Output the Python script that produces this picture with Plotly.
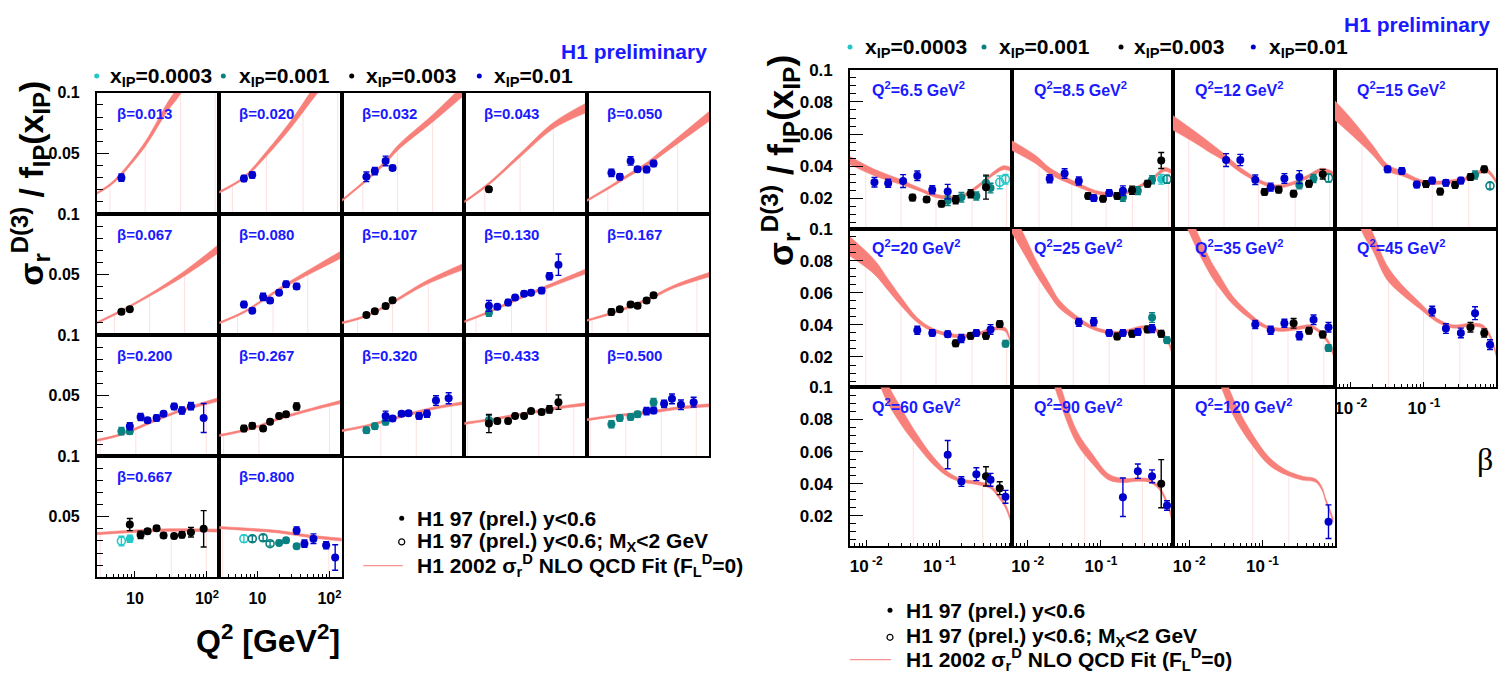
import numpy as np
import plotly.graph_objects as go

W, H = 1501, 684
FONT = "Liberation Sans, Arial, sans-serif"

CYAN = "#22c8c8"    # x_IP = 0.0003
TEAL = "#0a8080"    # x_IP = 0.001
BLACK = "#000000"   # x_IP = 0.003
BLUE = "#0000cc"    # x_IP = 0.01
LABEL_BLUE = "#1a1aff"
FIT = "rgb(248,128,122)"
FIT_SEAM = "rgba(240,120,120,0.22)"

# ---------------------------------------------------------------- binning
BETA_BINS = [0.013, 0.020, 0.032, 0.043, 0.050, 0.067, 0.080, 0.107, 0.130,
             0.167, 0.200, 0.267, 0.320, 0.433, 0.500, 0.667, 0.800]
Q2_BINS = [6.5, 8.5, 12, 15, 20, 25, 35, 45, 60, 90, 120]

# ------------------------------------------- sigma_r^D(3)/f_IP per x_IP
# x_IP = 0.0003
c_beta = [0.667, 0.667, 0.800]
c_q2 = [6.5, 8.5, 6.5]
c_sig = [0.0299, 0.0318, 0.0318]
c_err = [0.004, 0.003, 0.003]
c_open = [1, 0, 1]

# x_IP = 0.001
t_beta = [0.130, 0.200, 0.200, 0.320, 0.320, 0.320, 0.433, 0.500, 0.500,
          0.500, 0.500, 0.500, 0.800, 0.800, 0.800, 0.800, 0.800, 0.800]
t_q2 = [6.5, 6.5, 8.5, 6.5, 8.5, 12, 6.5, 6.5, 8.5,
        12, 15, 25, 8.5, 12, 15, 20, 25, 35]
t_sig = [0.0184, 0.0206, 0.0206, 0.0214, 0.0247, 0.0283, 0.0296, 0.0263, 0.0315,
         0.0323, 0.0345, 0.0446, 0.0318, 0.0326, 0.0277, 0.0283, 0.0305, 0.0256]
t_err = [0.003, 0.003, 0.0025, 0.0025, 0.0025, 0.0025, 0.004, 0.003, 0.0025,
         0.0025, 0.0025, 0.003, 0.0025, 0.0025, 0.002, 0.002, 0.002, 0.002]
t_open = [0, 0, 0, 0, 0, 0, 0, 0, 0, 0, 0, 0, 1, 1, 1, 0, 0, 0]

# x_IP = 0.003
k_beta = [0.043,
          0.067, 0.067,
          0.107, 0.107, 0.107, 0.107,
          0.167, 0.167, 0.167, 0.167, 0.167, 0.167,
          0.267, 0.267, 0.267, 0.267, 0.267, 0.267, 0.267,
          0.433, 0.433, 0.433, 0.433, 0.433, 0.433, 0.433, 0.433, 0.433,
          0.667, 0.667, 0.667, 0.667, 0.667, 0.667, 0.667, 0.667, 0.667]
k_q2 = [6.5,
        6.5, 8.5,
        6.5, 8.5, 12, 15,
        6.5, 8.5, 12, 15, 20, 25,
        6.5, 8.5, 12, 15, 20, 25, 35,
        6.5, 8.5, 12, 15, 20, 25, 35, 45, 60,
        8.5, 12, 15, 20, 25, 35, 45, 60, 90]
k_sig = [0.0204,
         0.0192, 0.0214,
         0.0165, 0.0196, 0.0239, 0.0288,
         0.0190, 0.0214, 0.0253, 0.0241, 0.0285, 0.0328,
         0.0228, 0.0250, 0.0228, 0.0283, 0.0332, 0.0345, 0.0410,
         0.0269, 0.0290, 0.0290, 0.0332, 0.0332, 0.0372, 0.0364, 0.0386, 0.0446,
         0.0435, 0.0350, 0.0380, 0.0405, 0.0345, 0.0340, 0.0350, 0.0372, 0.0400]
k_err = [0.002,
         0.0018, 0.0018,
         0.0018, 0.0018, 0.002, 0.002,
         0.0025, 0.002, 0.002, 0.002, 0.002, 0.002,
         0.0025, 0.0025, 0.002, 0.002, 0.002, 0.002, 0.003,
         0.0075, 0.002, 0.002, 0.002, 0.002, 0.002, 0.002, 0.003, 0.006,
         0.005, 0.003, 0.002, 0.002, 0.002, 0.002, 0.0025, 0.004, 0.015]
k_open = [0] * len(k_beta)

# x_IP = 0.01
b_beta = [0.013,
          0.020, 0.020,
          0.032, 0.032, 0.032, 0.032,
          0.050, 0.050, 0.050, 0.050, 0.050, 0.050,
          0.080, 0.080, 0.080, 0.080, 0.080, 0.080, 0.080,
          0.130, 0.130, 0.130, 0.130, 0.130, 0.130, 0.130, 0.130, 0.130,
          0.200, 0.200, 0.200, 0.200, 0.200, 0.200, 0.200, 0.200, 0.200,
          0.320, 0.320, 0.320, 0.320, 0.320, 0.320, 0.320, 0.320,
          0.500, 0.500, 0.500, 0.500, 0.500, 0.500,
          0.800, 0.800, 0.800, 0.800, 0.800]
b_q2 = [6.5,
        6.5, 8.5,
        6.5, 8.5, 12, 15,
        6.5, 8.5, 12, 15, 20, 25,
        6.5, 8.5, 12, 15, 20, 25, 35,
        6.5, 8.5, 12, 15, 20, 25, 35, 45, 60,
        8.5, 12, 15, 20, 25, 35, 45, 60, 90,
        12, 15, 20, 25, 35, 45, 60, 90,
        20, 25, 35, 45, 60, 90,
        35, 45, 60, 90, 120]
b_sig = [0.0300,
         0.0293, 0.0321,
         0.0307, 0.0354, 0.0438, 0.0380,
         0.0340, 0.0307, 0.0438, 0.0370, 0.0367, 0.0416,
         0.0253, 0.0201, 0.0315, 0.0285, 0.0350, 0.0420, 0.0402,
         0.0241, 0.0233, 0.0269, 0.0310, 0.0342, 0.0350, 0.0367, 0.0486, 0.0581,
         0.0247, 0.0323, 0.0296, 0.0315, 0.0350, 0.0410, 0.0377, 0.0413, 0.0315,
         0.0332, 0.0310, 0.0350, 0.0355, 0.0332, 0.0350, 0.0459, 0.0478,
         0.0372, 0.0377, 0.0432, 0.0473, 0.0424, 0.0446,
         0.0386, 0.0277, 0.0318, 0.0264, 0.0163]
b_err = [0.003,
         0.0025, 0.0025,
         0.004, 0.003, 0.004, 0.002,
         0.003, 0.0025, 0.0035, 0.002, 0.0025, 0.0025,
         0.0025, 0.002, 0.003, 0.002, 0.002, 0.0025, 0.0025,
         0.0045, 0.002, 0.0025, 0.002, 0.002, 0.002, 0.0025, 0.003, 0.0088,
         0.003, 0.003, 0.002, 0.0025, 0.002, 0.0025, 0.003, 0.003, 0.012,
         0.004, 0.002, 0.002, 0.002, 0.0025, 0.003, 0.004, 0.0045,
         0.003, 0.0025, 0.003, 0.004, 0.004, 0.004,
         0.003, 0.003, 0.004, 0.003, 0.0105]
b_open = [0] * len(b_beta)

SERIES = [
    (CYAN, c_beta, c_q2, c_sig, c_err, c_open),
    (TEAL, t_beta, t_q2, t_sig, t_err, t_open),
    (BLACK, k_beta, k_q2, k_sig, k_err, k_open),
    (BLUE, b_beta, b_q2, b_sig, b_err, b_open),
]

# ------------------------------- H1 2002 NLO QCD fit band: centre, half-width
# versus Q^2 at fixed beta
FIT_VS_Q2 = {
    0.013: ([2.95, 4.5, 6.5, 14, 28, 40, 60],
            [0.017, 0.024, 0.033, 0.058, 0.088, 0.101, 0.120],
            [0.0008, 0.001, 0.0012, 0.002, 0.0035, 0.0045, 0.006]),
    0.020: ([2.95, 6.5, 13.5, 30, 60, 100],
            [0.018, 0.030, 0.050, 0.075, 0.100, 0.118],
            [0.0008, 0.001, 0.002, 0.003, 0.0045, 0.006]),
    0.032: ([2.95, 6.5, 12, 18, 54, 150],
            [0.011, 0.028, 0.043, 0.055, 0.079, 0.103],
            [0.0008, 0.001, 0.0015, 0.002, 0.003, 0.0045]),
    0.043: ([2.95, 6.5, 18, 51, 150],
            [0.010, 0.025, 0.049, 0.073, 0.088],
            [0.0008, 0.001, 0.0015, 0.0025, 0.004]),
    0.050: ([2.95, 6.5, 12, 20, 35, 150],
            [0.011, 0.023, 0.033, 0.041, 0.052, 0.081],
            [0.0008, 0.001, 0.0012, 0.0015, 0.002, 0.004]),
    0.067: ([2.95, 6.5, 16, 49, 150],
            [0.010, 0.020, 0.033, 0.051, 0.072],
            [0.0007, 0.0008, 0.001, 0.002, 0.0035]),
    0.080: ([2.95, 6.5, 16, 23, 60, 150],
            [0.010, 0.019, 0.034, 0.040, 0.054, 0.067],
            [0.0007, 0.0008, 0.001, 0.0012, 0.002, 0.003]),
    0.107: ([2.95, 6.5, 15, 40, 150],
            [0.010, 0.016, 0.027, 0.042, 0.057],
            [0.0007, 0.0008, 0.001, 0.0015, 0.0025]),
    0.130: ([2.95, 6.5, 15, 35, 150],
            [0.011, 0.019, 0.029, 0.038, 0.053],
            [0.0007, 0.0008, 0.001, 0.0012, 0.002]),
    0.167: ([2.95, 6.5, 20, 48, 150],
            [0.012, 0.018, 0.029, 0.040, 0.050],
            [0.0007, 0.0008, 0.001, 0.0012, 0.0018]),
    0.200: ([2.95, 6.5, 20, 45, 150],
            [0.013, 0.018, 0.030, 0.038, 0.047],
            [0.0008, 0.0008, 0.001, 0.001, 0.0015]),
    0.267: ([2.95, 8.5, 20, 60, 150],
            [0.017, 0.023, 0.031, 0.039, 0.045],
            [0.0008, 0.0008, 0.001, 0.001, 0.0013]),
    0.320: ([2.95, 6.5, 20, 60, 150],
            [0.021, 0.025, 0.033, 0.040, 0.044],
            [0.0008, 0.0008, 0.001, 0.001, 0.0012]),
    0.433: ([2.95, 6.5, 20, 60, 150],
            [0.027, 0.030, 0.035, 0.040, 0.043],
            [0.0008, 0.0008, 0.001, 0.001, 0.0012]),
    0.500: ([2.95, 6.5, 20, 60, 150],
            [0.030, 0.033, 0.036, 0.040, 0.042],
            [0.0008, 0.0008, 0.001, 0.001, 0.0012]),
    0.667: ([2.95, 10, 30, 150],
            [0.036, 0.038, 0.039, 0.0385],
            [0.0009, 0.001, 0.001, 0.0012]),
    0.800: ([2.95, 10, 20, 50, 150],
            [0.041, 0.039, 0.0375, 0.034, 0.031],
            [0.0009, 0.001, 0.001, 0.001, 0.0012]),
}

# versus beta at fixed Q^2
FIT_VS_BETA = {
    6.5: ([0.006, 0.013, 0.03, 0.05, 0.1, 0.2, 0.35, 0.5, 0.75, 0.95],
          [0.0435, 0.036, 0.030, 0.026, 0.021, 0.021, 0.028, 0.034, 0.039, 0.038],
          [0.0025, 0.002, 0.0015, 0.001, 0.001, 0.001, 0.001, 0.001, 0.0012, 0.0012]),
    8.5: ([0.006, 0.013, 0.02, 0.05, 0.1, 0.2, 0.3, 0.5, 0.75, 0.95],
          [0.053, 0.044, 0.037, 0.028, 0.023, 0.023, 0.026, 0.032, 0.038, 0.036],
          [0.003, 0.0025, 0.002, 0.0012, 0.001, 0.001, 0.001, 0.001, 0.0012, 0.0012]),
    12: ([0.006, 0.013, 0.02, 0.032, 0.05, 0.1, 0.15, 0.25, 0.4, 0.65, 0.95],
         [0.067, 0.057, 0.051, 0.0447, 0.0376, 0.0297, 0.0273, 0.029, 0.033, 0.0375, 0.035],
         [0.0045, 0.0035, 0.003, 0.002, 0.0015, 0.001, 0.001, 0.001, 0.001, 0.0012, 0.0012]),
    15: ([0.006, 0.01, 0.02, 0.032, 0.05, 0.1, 0.2, 0.43, 0.7, 0.98],
         [0.075, 0.065, 0.050, 0.039, 0.0355, 0.030, 0.030, 0.033, 0.0375, 0.030],
         [0.006, 0.005, 0.003, 0.002, 0.0015, 0.001, 0.001, 0.001, 0.0012, 0.0012]),
    20: ([0.006, 0.013, 0.02, 0.032, 0.05, 0.08, 0.13, 0.2, 0.32, 0.5, 0.65, 0.8, 0.9, 0.97],
         [0.089, 0.076, 0.065, 0.053, 0.043, 0.037, 0.034, 0.033, 0.034, 0.037, 0.038, 0.037, 0.032, 0.024],
         [0.006, 0.0045, 0.0035, 0.0025, 0.0015, 0.001, 0.001, 0.001, 0.001, 0.001, 0.001, 0.0012, 0.0012, 0.0012]),
    25: ([0.006, 0.01, 0.013, 0.02, 0.027, 0.047, 0.08, 0.12, 0.18, 0.4, 0.6, 0.8, 0.93],
         [0.105, 0.086, 0.076, 0.062, 0.053, 0.044, 0.038, 0.0357, 0.035, 0.0385, 0.036, 0.031, 0.0235],
         [0.007, 0.0055, 0.0045, 0.0035, 0.0025, 0.0015, 0.001, 0.001, 0.001, 0.001, 0.001, 0.0012, 0.0012]),
    35: ([0.008, 0.0104, 0.013, 0.02, 0.026, 0.04, 0.074, 0.11, 0.17, 0.3, 0.45, 0.6, 0.8, 0.93],
         [0.115, 0.102, 0.092, 0.075, 0.067, 0.055, 0.044, 0.039, 0.037, 0.038, 0.039, 0.036, 0.029, 0.022],
         [0.007, 0.006, 0.0055, 0.0045, 0.004, 0.0025, 0.0015, 0.001, 0.001, 0.001, 0.001, 0.001, 0.0012, 0.0012]),
    45: ([0.01, 0.015, 0.02, 0.031, 0.05, 0.088, 0.15, 0.25, 0.43, 0.64, 0.8, 0.98],
         [0.125, 0.102, 0.092, 0.073, 0.062, 0.052, 0.043, 0.039, 0.040, 0.039, 0.033, 0.021],
         [0.007, 0.006, 0.0055, 0.0045, 0.003, 0.002, 0.0012, 0.001, 0.001, 0.001, 0.0012, 0.0012]),
    60: ([0.012, 0.018, 0.032, 0.05, 0.08, 0.13, 0.2, 0.32, 0.5, 0.65, 0.8, 0.93],
         [0.125, 0.100, 0.080, 0.067, 0.055, 0.046, 0.042, 0.0405, 0.038, 0.032, 0.026, 0.018],
         [0.007, 0.006, 0.005, 0.0035, 0.0025, 0.0015, 0.001, 0.001, 0.001, 0.001, 0.0012, 0.0012]),
    90: ([0.018, 0.026, 0.047, 0.078, 0.13, 0.22, 0.3, 0.45, 0.62, 0.85, 0.93],
         [0.125, 0.100, 0.069, 0.055, 0.044, 0.042, 0.0425, 0.042, 0.0375, 0.025, 0.018],
         [0.007, 0.006, 0.004, 0.003, 0.0018, 0.0012, 0.001, 0.001, 0.001, 0.0012, 0.0012]),
    120: ([0.022, 0.031, 0.044, 0.074, 0.124, 0.21, 0.35, 0.53, 0.65, 0.73, 0.85, 0.93],
          [0.120, 0.100, 0.084, 0.067, 0.054, 0.047, 0.0435, 0.042, 0.037, 0.030, 0.022, 0.017],
          [0.007, 0.006, 0.005, 0.0035, 0.0025, 0.0015, 0.0012, 0.001, 0.001, 0.001, 0.0012, 0.0012]),
}

# seams of the fit-band polygons (faint verticals below the band)
SEAMS_Q2 = {
    0.013: [4.5, 13.9, 43, 130], 0.020: [4.5, 13.4, 43, 130],
    0.032: [5.8, 17.6, 54], 0.043: [5.7, 17.6, 51], 0.050: [5.8, 18, 54],
    0.067: [5.2, 16, 49], 0.080: [5.3, 16.5, 50], 0.107: [4.9, 15, 47],
    0.130: [4.3, 13.4, 41], 0.167: [3.5, 11, 100],
    0.200: [3.3, 10.3, 32, 98], 0.267: [3.4, 10.5, 100], 0.320: [10.3, 32, 98],
    0.433: [3.3, 32, 98], 0.500: [3.3, 10.3, 32, 98],
    0.667: [3.3, 32, 98], 0.800: [3.3, 98],
}
SEAMS_BETA = {
    6.5: [0.0099, 0.030, 0.090, 0.28, 0.83], 8.5: [0.0143, 0.040, 0.118, 0.27, 0.84],
    12: [0.0099, 0.030, 0.089, 0.28, 0.83], 15: [0.0143, 0.044, 0.13, 0.41],
    20: [0.0099, 0.030, 0.090, 0.28, 0.83], 25: [0.0143, 0.042, 0.13, 0.39],
    35: [0.0234, 0.072, 0.224, 0.69], 45: [0.033, 0.099, 0.31],
    60: [0.044, 0.39], 90: [0.06, 0.37], 120: [0.074, 0.23],
}

# ------------------------------------------------------------ geometry (px)
L_X0, L_W, L_Y0, L_H = 96.7, 122.5, 85.0, 122.7
R_X0, R_W, R_Y0, R_H = 850.0, 161.5, 61.7, 160.9
L_XRANGE, L_YRANGE = [0.47, 2.17], [0.0, 0.1]
R_XRANGE, R_YRANGE = [-2.22, -0.015], [0.001, 0.1]

fig = go.Figure()
layout = {}
annotations = []
n_axes = [0]


def bold(s):
    return "<b>" + s + "</b>"


def new_axes(x0, y0, w, h, xcfg, ycfg):
    n_axes[0] += 1
    n = n_axes[0]
    sx = "" if n == 1 else str(n)
    frame = dict(showline=True, mirror=True, linecolor="black", linewidth=1.6,
                 showgrid=False, zeroline=False, fixedrange=True)
    layout["xaxis" + sx] = dict(domain=[x0 / W, (x0 + w) / W], anchor="y" + sx,
                                **frame, **xcfg)
    layout["yaxis" + sx] = dict(domain=[1 - (y0 + h) / H, 1 - y0 / H], anchor="x" + sx,
                                **frame, **ycfg)
    return "x" + sx, "y" + sx


def log_x_cfg(rng, show, major, major_txt, minor, tick_font, standoff):
    cfg = dict(type="log", range=rng, showticklabels=show)
    if show:
        cfg.update(ticks="inside", ticklen=6, tickwidth=1.2, tickcolor="black",
                   tickmode="array", tickvals=major, ticktext=[bold(t) for t in major_txt],
                   tickfont=dict(family=FONT, size=tick_font, color="black"),
                   ticklabelstandoff=standoff,
                   minor=dict(ticks="inside", ticklen=3.5, tickwidth=1, tickcolor="black",
                              tickmode="array", tickvals=minor))
    else:
        cfg.update(ticks="")
    return cfg


def lin_y_cfg(rng, show, major, major_txt, minor, tick_font, tlen):
    cfg = dict(range=rng, showticklabels=show)
    if show:
        cfg.update(ticks="inside", ticklen=tlen, tickwidth=1.3, tickcolor="black",
                   tickmode="array", tickvals=major, ticktext=[bold(t) for t in major_txt],
                   tickfont=dict(family=FONT, size=tick_font, color="black"),
                   ticklabelstandoff=12,
                   minor=dict(ticks="inside", ticklen=tlen / 2, tickwidth=1, tickcolor="black",
                              tickmode="array", tickvals=minor))
    else:
        cfg.update(ticks="")
    return cfg


def add_band(xr, yr, nodes, mid, half):
    lo = [m - h for m, h in zip(mid, half)]
    hi = [m + h for m, h in zip(mid, half)]
    fig.add_trace(go.Scatter(x=nodes, y=lo, xaxis=xr, yaxis=yr, mode="lines",
                             line=dict(color=FIT, width=0.6, shape="spline", smoothing=1.0),
                             hoverinfo="skip"))
    fig.add_trace(go.Scatter(x=nodes, y=hi, xaxis=xr, yaxis=yr, mode="lines",
                             line=dict(color=FIT, width=0.6, shape="spline", smoothing=1.0),
                             fill="tonexty", fillcolor=FIT, hoverinfo="skip"))


def add_seams(xr, yr, seams, nodes, mid, ybot, ytop):
    lx = np.log10(nodes)
    xs, ys = [], []
    for s in seams:
        top = min(float(np.interp(np.log10(s), lx, mid)), ytop)
        xs += [s, s, None]
        ys += [ybot, top, None]
    fig.add_trace(go.Scatter(x=xs, y=ys, xaxis=xr, yaxis=yr, mode="lines",
                             line=dict(color=FIT_SEAM, width=1), hoverinfo="skip"))


def add_points(xr, yr, key_index, key_value, xvar_index):
    for color, beta, q2, sig, err, opn in SERIES:
        cols = (beta, q2)
        for want_open in (0, 1):
            idx = [i for i in range(len(sig))
                   if abs(cols[key_index][i] - key_value) < 1e-9 and opn[i] == want_open]
            if not idx:
                continue
            fig.add_trace(go.Scatter(
                x=[cols[xvar_index][i] for i in idx], y=[sig[i] for i in idx],
                xaxis=xr, yaxis=yr, mode="markers",
                marker=dict(symbol="circle-open" if want_open else "circle", size=8,
                            color=color, line=dict(width=1.6 if want_open else 0, color=color)),
                error_y=dict(type="data", array=[err[i] for i in idx], color=color,
                             thickness=1.4, width=3),
                hoverinfo="skip"))


def text(x, y, s, size, color="black", xanchor="left", yanchor="middle",
         family=FONT, angle=0):
    annotations.append(dict(x=x / W, y=1 - y / H, xref="paper", yref="paper",
                            text=s, showarrow=False, xanchor=xanchor, yanchor=yanchor,
                            textangle=angle,
                            font=dict(family=family, size=size, color=color)))


# ---------------------------------------------- left block: versus Q^2
L_MAJOR_X, L_MAJOR_TXT = [10, 100], ["10", "10<sup>2</sup>"]
L_MINOR_X = [3, 4, 5, 6, 7, 8, 9, 20, 30, 40, 50, 60, 70, 80, 90]
L_MAJOR_Y, L_MAJOR_YTXT = [0.05, 0.1], ["0.05", "0.1"]
L_MINOR_Y = [0.01, 0.02, 0.03, 0.04, 0.06, 0.07, 0.08, 0.09]

for k, beta in enumerate(BETA_BINS):
    row, col = divmod(k, 5)
    x0 = L_X0 + col * L_W
    y0 = L_Y0 + row * L_H
    bottom_labels = row == 3
    xr, yr = new_axes(
        x0, y0, L_W, L_H,
        log_x_cfg(L_XRANGE, bottom_labels, L_MAJOR_X, L_MAJOR_TXT, L_MINOR_X, 16, 6),
        lin_y_cfg(L_YRANGE, col == 0, L_MAJOR_Y, L_MAJOR_YTXT, L_MINOR_Y, 16, 12))
    nodes, mid, half = FIT_VS_Q2[beta]
    add_band(xr, yr, nodes, mid, half)
    add_seams(xr, yr, SEAMS_Q2[beta], nodes, mid, L_YRANGE[0], L_YRANGE[1])
    add_points(xr, yr, 0, beta, 1)
    text(x0 + 18, y0 + 21, bold("β=%.3f" % beta), 15, LABEL_BLUE)

# ---------------------------------------------- right block: versus beta
R_MAJOR_X, R_MAJOR_TXT = [0.01, 0.1], ["10<sup> -2</sup>", "10<sup> -1</sup>"]
R_MINOR_X = [0.007, 0.008, 0.009, 0.02, 0.03, 0.04, 0.05, 0.06, 0.07, 0.08, 0.09,
             0.2, 0.3, 0.4, 0.5, 0.6, 0.7, 0.8, 0.9]
R_MAJOR_Y, R_MAJOR_YTXT = [0.02, 0.04, 0.06, 0.08, 0.1], ["0.02", "0.04", "0.06", "0.08", "0.1"]
R_MINOR_Y = [0.005, 0.01, 0.015, 0.025, 0.03, 0.035, 0.045, 0.05, 0.055, 0.065,
             0.07, 0.075, 0.085, 0.09, 0.095]

for k, q2 in enumerate(Q2_BINS):
    row, col = divmod(k, 4)
    x0 = R_X0 + col * R_W
    y0 = R_Y0 + row * R_H
    bottom_labels = row == 2 or (row == 1 and col == 3)
    xr, yr = new_axes(
        x0, y0, R_W, R_H,
        log_x_cfg(R_XRANGE, bottom_labels, R_MAJOR_X, R_MAJOR_TXT, R_MINOR_X, 17, 4),
        lin_y_cfg(R_YRANGE, col == 0, R_MAJOR_Y, R_MAJOR_YTXT, R_MINOR_Y, 17, 13))
    nodes, mid, half = FIT_VS_BETA[q2]
    add_band(xr, yr, nodes, mid, half)
    add_seams(xr, yr, SEAMS_BETA[q2], nodes, mid, R_YRANGE[0], R_YRANGE[1])
    add_points(xr, yr, 1, q2, 0)
    q2_txt = ("%g" % q2)
    text(x0 + 20, y0 + 19, bold("Q<sup>2</sup>=" + q2_txt + " GeV<sup>2</sup>"), 16, LABEL_BLUE)

# ---------------------------------------------- overlay for legend symbols
n_axes[0] += 1
ov = str(n_axes[0])
layout["xaxis" + ov] = dict(domain=[0, 1], range=[0, W], visible=False, fixedrange=True,
                            anchor="y" + ov)
layout["yaxis" + ov] = dict(domain=[0, 1], range=[H, 0], visible=False, fixedrange=True,
                            anchor="x" + ov)


def legend_dot(x, y, color, size=5, hollow=False):
    fig.add_trace(go.Scatter(x=[x], y=[y], xaxis="x" + ov, yaxis="y" + ov, mode="markers",
                             marker=dict(symbol="circle-open" if hollow else "circle",
                                         size=size, color=color,
                                         line=dict(width=1.2 if hollow else 0, color=color)),
                             hoverinfo="skip"))


def legend_line(x0, x1, y):
    fig.add_trace(go.Scatter(x=[x0, x1], y=[y, y], xaxis="x" + ov, yaxis="y" + ov,
                             mode="lines", line=dict(color="rgba(248,110,110,0.75)", width=1.4),
                             hoverinfo="skip"))


XIP_LABELS = ["0.0003", "0.001", "0.003", "0.01"]
XIP_COLORS = [CYAN, TEAL, BLACK, BLUE]

# x_IP key rows
for dots, txts, yk in (([96.7, 223.3, 351.7, 479.3], [108, 236.7, 364, 491.7], 68),
                       ([850, 984, 1121, 1253.3], [863.3, 997.3, 1131.7, 1266.7], 38.5)):
    for dx, tx, lab, colr in zip(dots, txts, XIP_LABELS, XIP_COLORS):
        legend_dot(dx, yk, colr, size=5)
        text(tx, yk + 1, bold("x<sub>IP</sub>=" + lab), 21)

text(709, 43, bold("H1 preliminary"), 21, LABEL_BLUE, xanchor="right")
text(1492, 16, bold("H1 preliminary"), 21, LABEL_BLUE, xanchor="right")

# data / fit key blocks
KEY_TEXT = [bold("H1 97 (prel.) y&lt;0.6"),
            bold("H1 97 (prel.) y&lt;0.6; M<sub>X</sub>&lt;2 GeV"),
            bold("H1 2002 σ<sub>r</sub><sup>D</sup> NLO QCD Fit (F<sub>L</sub><sup>D</sup>=0)")]
for xs, xl0, ys in ((401.7, 363.3, [516, 540, 564]), (890, 850, [609.3, 636.7, 659.3])):
    legend_dot(xs, ys[0], BLACK, size=5)
    legend_dot(xs, ys[1], BLACK, size=6, hollow=True)
    legend_line(xl0, xs + 1, ys[2])
    for yy, s in zip(ys, KEY_TEXT):
        text(xs + 13.5, yy, s, 21)

# axis titles
YTITLE = bold("σ<sub>r</sub><sup>D(3)</sup> / f<sub>IP</sub>(x<sub>IP</sub>)")
text(30, 177, YTITLE, 34, angle=-90, xanchor="center")
text(781, 153, YTITLE, 35, angle=-90, xanchor="center")
text(268, 638, bold("Q<sup>2</sup> [GeV<sup>2</sup>]"), 32, xanchor="center")
text(1485, 456, "β", 32, xanchor="center", family="Liberation Serif, DejaVu Serif, serif")

fig.update_layout(width=W, height=H, margin=dict(l=0, r=0, t=0, b=0),
                  paper_bgcolor="white", plot_bgcolor="rgba(0,0,0,0)",
                  showlegend=False, annotations=annotations, **layout)
# the page body gets no margin so the figure fills the window exactly
fig.write_html("out.html", post_script="document.body.style.margin='0';")
